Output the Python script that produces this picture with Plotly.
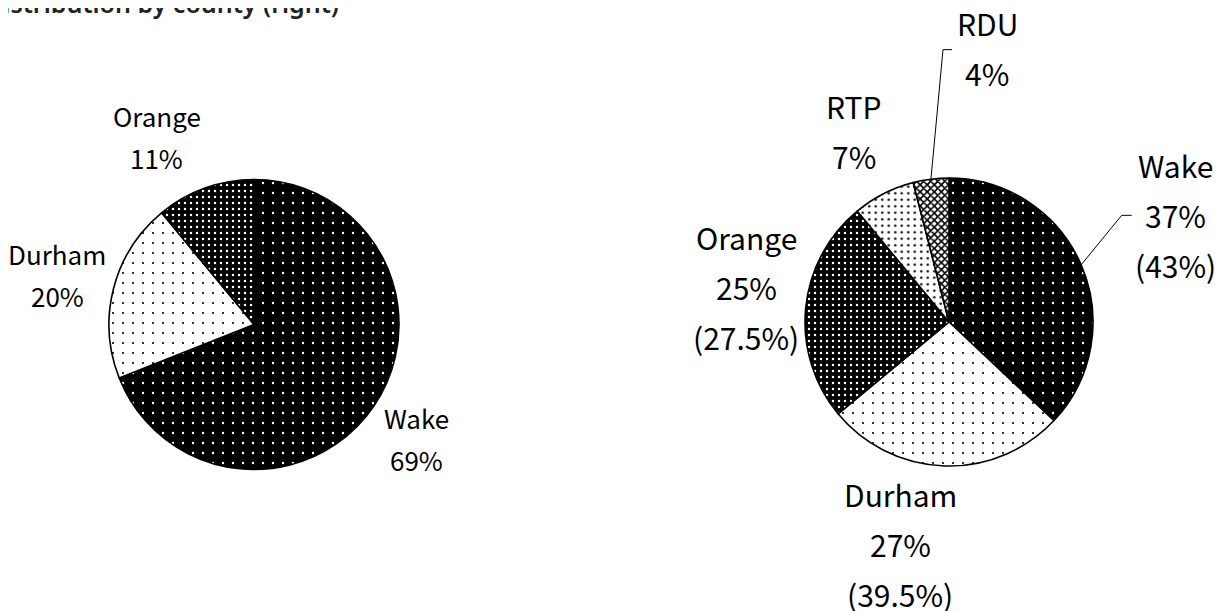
import math
import plotly.graph_objects as go

# ---------------- data ----------------
left_labels = ["Wake", "Durham", "Orange"]
left_values = [69, 20, 11]

right_labels = ["Wake", "Durham", "Orange", "RTP", "RDU"]
right_values = [37, 27, 25, 7, 4]
right_paren = [43, 39.5, 27.5, None, None]

title_text = "Distribution by county (right)"

# ---------------- layout / style ----------------
W, H = 1223, 611
OFF = 8  # page body margin: page pixel = OFF + paper pixel
FONT = "Noto Sans CJK JP"

patterns = {
    "Wake":   dict(shape=".", fgcolor="white", bgcolor="black", size=10, solidity=0.045),
    "Durham": dict(shape=".", fgcolor="black", bgcolor="white", size=10, solidity=0.035),
    "Orange": dict(shape=".", fgcolor="white", bgcolor="black", size=6, solidity=0.14),
    "RTP":    dict(shape=".", fgcolor="black", bgcolor="white", size=6.5, solidity=0.12),
    "RDU":    dict(shape="x", fgcolor="black", bgcolor="white", size=5, solidity=0.55),
}

LEFT = dict(cx=254, cy=324.5, r=145, fs=26, spacing=42,
            place={"Wake": (1.37, 0.8), "Durham": (1.40, -0.1), "Orange": (1.46, -7.6)})
RIGHT = dict(cx=949, cy=322, r=144, fs=30, spacing=50,
             place={"Wake": (1.74, -1.8), "Durham": (1.575, 10.6), "Orange": (1.43, 4.4),
                    "RTP": (1.48, 0.5), "RDU": (1.92, 15.1)})
# leader lines: (elbow dx, elbow dy, end dx, end dy) relative to label block centre
LEADERS = {"Wake": (-54, 0, -44, 0), "RDU": (-44, 1.5, -35, 1.5)}


def px(x):
    return (x - OFF) / W


def py(y):
    return 1 - (y - OFF) / H


def domain(g):
    return dict(x=[px(g["cx"] - g["r"]), px(g["cx"] + g["r"])],
                y=[py(g["cy"] + g["r"]), py(g["cy"] - g["r"])])


def mid_angles(values):
    total = sum(values)
    cum, out = 0, []
    for v in values:
        out.append((cum + v / 2) / total * 360)
        cum += v
    return out


def pie_trace(labels, values, g):
    return go.Pie(
        labels=labels, values=values, sort=False, direction="clockwise", rotation=0,
        domain=domain(g), textinfo="none", hoverinfo="label+percent", showlegend=False,
        marker=dict(colors=[patterns[l]["bgcolor"] for l in labels],
                    line=dict(color="black", width=1.6),
                    pattern=dict(shape=[patterns[l]["shape"] for l in labels],
                                 fgcolor=[patterns[l]["fgcolor"] for l in labels],
                                 bgcolor=[patterns[l]["bgcolor"] for l in labels],
                                 size=[patterns[l]["size"] for l in labels],
                                 solidity=[patterns[l]["solidity"] for l in labels],
                                 fillmode="replace")))


def fmt(v):
    return f"{v:g}"


annotations, shapes = [], []


def add_labels(labels, values, parens, g, leaders=None):
    angs = mid_angles(values)
    for i, lab in enumerate(labels):
        k, dth = g["place"][lab]
        th = math.radians(angs[i] + dth)
        bx = g["cx"] + k * g["r"] * math.sin(th)
        by = g["cy"] - k * g["r"] * math.cos(th)
        lines = [lab, f"{fmt(values[i])}%"]
        if parens is not None and parens[i] is not None:
            lines.append(f"({fmt(parens[i])}%)")
        n = len(lines)
        for j, t in enumerate(lines):
            ly = by + (j - (n - 1) / 2) * g["spacing"]
            annotations.append(dict(x=px(bx), y=py(ly), xref="paper", yref="paper",
                                    text=t, showarrow=False, xanchor="center", yanchor="middle",
                                    font=dict(family=FONT, size=g["fs"], color="black")))
        if leaders and lab in leaders:
            ex, ey, tx, ty = leaders[lab]
            a = math.radians(angs[i])
            sx = g["cx"] + g["r"] * math.sin(a)
            sy = g["cy"] - g["r"] * math.cos(a)
            path = (f"M {px(sx)},{py(sy)} L {px(bx + ex)},{py(by + ey)} "
                    f"L {px(bx + tx)},{py(by + ty)}")
            shapes.append(dict(type="path", path=path, xref="paper", yref="paper",
                               line=dict(color="black", width=1)))


add_labels(left_labels, left_values, None, LEFT)
add_labels(right_labels, right_values, right_paren, RIGHT, LEADERS)

annotations.append(dict(x=px(341), y=py(22), xref="paper", yref="paper", text=title_text,
                        showarrow=False, xanchor="right", yanchor="bottom",
                        font=dict(family="Noto Sans", size=25, color="#222222", weight=600)))

fig = go.Figure([pie_trace(left_labels, left_values, LEFT),
                 pie_trace(right_labels, right_values, RIGHT)])
fig.update_layout(width=W, height=H, margin=dict(l=0, r=0, t=0, b=0),
                  paper_bgcolor="white", plot_bgcolor="white",
                  annotations=annotations, shapes=shapes, showlegend=False)
fig.write_html("out.html")
